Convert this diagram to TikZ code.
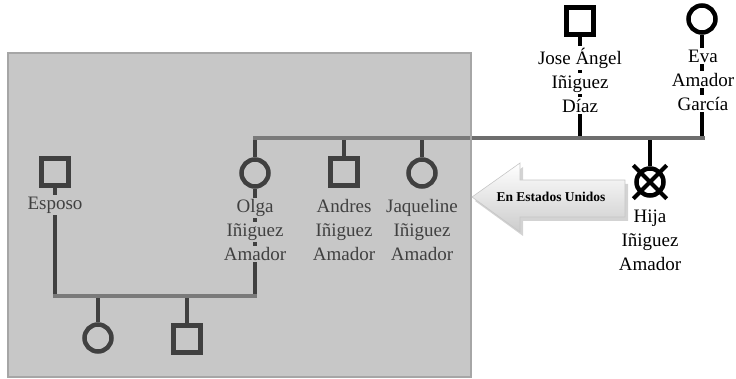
\documentclass[tikz,border=0pt]{standalone}
\usepackage{fontspec}
\setmainfont{Liberation Serif}
\usetikzlibrary{shadows,backgrounds,calc}
\setlength{\fboxsep}{1.8pt}
\newcommand{\wb}[1]{\colorbox{white}{#1}} % white strip behind one text line
\definecolor{linegray}{HTML}{6E6E6E}
\definecolor{boxgray}{HTML}{888888}

\begin{document}
\begin{tikzpicture}[
        x = 1pt, y = -1pt, % pixel units, y pointing down
        male/.style = {draw, rectangle, minimum size = 27pt, inner sep = 0pt,
                       fill = white, line width = 4.5pt},
        female/.style = {draw, circle, minimum size = 27pt, inner sep = 0pt,
                         fill = white, line width = 4.5pt},
        persontxt/.style = {align = center, inner sep = 0pt,
                       font = \fontsize{19}{24}\selectfont},
        vline/.style = {draw = black, line width = 4.5pt},
        hline/.style = {draw = linegray, line width = 4.5pt, line cap = rect}
        ]

    \useasboundingbox (0,0) rectangle (736,379);

    % parents
    \node[male] (jose) at (580,21) {};
    \node[female] (eva) at (702,19) {};
    \node[persontxt] (josetxt) at (580,80) {\wb{Jose Ángel}\\ \wb{Iñiguez}\\ \wb{Díaz}};
    \node[persontxt] (evatxt) at (703,80) {\wb{Eva}\\ \wb{Amador}\\ \wb{García}};

    % children
    \node[female] (olga) at (255,173) {};
    \node[male] (andres) at (344,172) {};
    \node[female] (jaq) at (422,173) {};
    \node[female] (hija) at (650,182) {};
    \node[persontxt] (olgatxt) at (255,230) {\wb{Olga}\\ \wb{Iñiguez}\\ \wb{Amador}};
    \node[persontxt] (andrestxt) at (344,230) {Andres\\ Iñiguez\\ Amador};
    \node[persontxt] (jaqtxt) at (422,230) {Jaqueline\\ Iñiguez\\ Amador};
    \node[persontxt] (hijatxt) at (650,240) {Hija\\ Iñiguez\\ Amador};

    % Olga's family
    \node[male] (esposo) at (55,172) {};
    \node[persontxt] (esposotxt) at (55,205) {\wb{Esposo}};
    \node[female] (kida) at (98,338) {};
    \node[male] (kidb) at (187,339) {};

    \coordinate (sibL) at (255,138);
    \coordinate (sibR) at (703,138);
    \coordinate (marL) at (55,296);
    \coordinate (marR) at (255,296);

    \begin{pgfonlayer}{background}
        \path[vline] (jose.south) -- (jose.south |- sibR);
        \path[vline] (eva.south) -- (eva.south |- sibR);
        \path[vline] (hija.north) -- (hija.north |- sibR);
        \path[vline] (olga.north) -- (olga.north |- sibL);
        \path[vline] (andres.north) -- (andres.north |- sibL);
        \path[vline] (jaq.north) -- (jaq.north |- sibL);
        \path[vline] (olga.south) -- (olga.south |- marR);
        \path[vline] (esposo.south) -- (esposo.south |- marL);
        \path[vline] (kida.north) -- (kida.north |- marL);
        \path[vline] (kidb.north) -- (kidb.north |- marL);
        \path[hline] (sibL) -- (sibR);
        \path[hline] (marL) -- (marR);
    \end{pgfonlayer}

    % deceased mark
    \draw[line width = 4pt] ($(hija.center)!1.5!(hija.north east)$) -- ($(hija.center)!1.5!(hija.south west)$);
    \draw[line width = 4pt] ($(hija.center)!1.5!(hija.north west)$) -- ($(hija.center)!1.5!(hija.south east)$);

    % grey box over the family in the USA
    \path[fill = boxgray, fill opacity = 0.47] (8,53) rectangle (471,377);
    \draw[gray!70, line width = 1.2pt] (8,53) rectangle (471,377);

    % arrow
    \path[draw = gray!45, line width = 0.6pt, top color = white, bottom color = gray!40,
          drop shadow = {shadow xshift = 3pt, shadow yshift = -4pt, opacity = 0.35}]
        (472,197) -- (520,163) -- (520,180) -- (625,180) -- (625,217)
        -- (520,217) -- (520,232) -- cycle;
    \node[font = \bfseries\fontsize{13.5}{15}\selectfont, inner sep = 0pt] (usa) at (551,197) {En Estados Unidos};

\end{tikzpicture}
\end{document}
